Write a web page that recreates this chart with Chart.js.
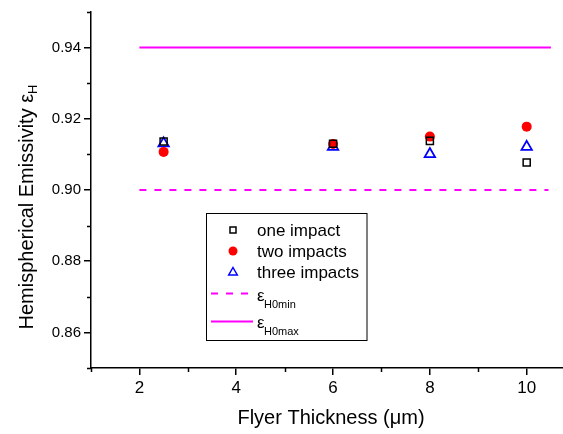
<!DOCTYPE html>
<html>
<head>
<meta charset="utf-8">
<script src="https://cdn.jsdelivr.net/npm/chart.js@4.4.1/dist/chart.umd.min.js"></script>
<style>
html,body{margin:0;padding:0;background:#fff;}
#wrap{width:563px;height:434px;position:relative;}
</style>
</head>
<body>
<div id="wrap"><canvas id="c" width="563" height="434"></canvas></div>
<script>
// Data
const thickness = [2.5, 6, 8, 10];
const oneImpact = [0.9136, 0.913, 0.9138, 0.9077];
const twoImpacts = [0.9107, 0.9129, 0.915, 0.9178];
const threeImpacts = [0.9131, 0.9121, 0.9101, 0.9121];
const eH0minX = [2, 10.45];
const eH0minY = [0.90, 0.90];
const eH0maxX = [2, 10.5];
const eH0maxY = [0.94, 0.94];
const xTicks = [2, 4, 6, 8, 10];
const xMinorTicks = [1, 3, 5, 7, 9];
const yTicks = [0.86, 0.88, 0.90, 0.92, 0.94];
const yMinorTicks = [0.85, 0.87, 0.89, 0.91, 0.93, 0.95];

const FONT = "'Liberation Sans', Arial, sans-serif";
const MAG = '#FF00FF';

const pts = (xs, ys) => xs.map((x, i) => ({x: x, y: ys[i]}));

const overlay = {
  id: 'overlay',
  afterDraw(chart) {
    const ctx = chart.ctx;
    const xs = chart.scales.x, ys = chart.scales.y;
    ctx.save();
    // minor ticks
    ctx.strokeStyle = '#000';
    ctx.lineWidth = 1.5;
    ctx.beginPath();
    xMinorTicks.forEach(v => {
      const px = Math.round(xs.getPixelForValue(v)) + 0.5;
      ctx.moveTo(px, ys.bottom);
      ctx.lineTo(px, ys.bottom + 4);
    });
    yMinorTicks.forEach(v => {
      const py = Math.round(ys.getPixelForValue(v)) + 0.5;
      ctx.moveTo(xs.left, py);
      ctx.lineTo(xs.left - 4, py);
    });
    ctx.stroke();

    // y axis title
    ctx.fillStyle = '#000';
    ctx.save();
    ctx.translate(33, 207);
    ctx.rotate(-Math.PI / 2);
    const main = 'Hemispherical Emissivity ε';
    ctx.font = '20px ' + FONT;
    const wMain = ctx.measureText(main).width;
    ctx.font = '13px ' + FONT;
    const wSub = ctx.measureText('H').width;
    const total = wMain + wSub;
    ctx.textBaseline = 'alphabetic';
    ctx.textAlign = 'left';
    ctx.font = '20px ' + FONT;
    ctx.fillText(main, -total / 2, 0);
    ctx.font = '13px ' + FONT;
    ctx.fillText('H', -total / 2 + wMain, 4);
    ctx.restore();

    // x axis title
    ctx.font = '20px ' + FONT;
    ctx.textAlign = 'center';
    ctx.textBaseline = 'alphabetic';
    ctx.fillText('Flyer Thickness (μm)', 331, 424);

    // legend box
    ctx.lineWidth = 1;
    ctx.strokeStyle = '#000';
    ctx.fillStyle = '#fff';
    ctx.fillRect(206.5, 213.5, 160.5, 127);
    ctx.strokeRect(206.5, 213.5, 160.5, 127);

    const symX = 233;
    const textX = 257;
    ctx.font = '17px ' + FONT;
    ctx.fillStyle = '#000';
    ctx.textAlign = 'left';
    ctx.textBaseline = 'middle';
    const rows = [230, 251, 272];
    // square
    ctx.lineWidth = 1.5;
    ctx.strokeStyle = '#000';
    ctx.strokeRect(symX - 3, rows[0] - 3, 6, 6);
    // circle
    ctx.fillStyle = '#FF0000';
    ctx.beginPath();
    ctx.arc(symX, rows[1], 4.5, 0, Math.PI * 2);
    ctx.fill();
    // triangle
    ctx.strokeStyle = '#0000FF';
    ctx.beginPath();
    ctx.moveTo(symX, rows[2] - 4.5);
    ctx.lineTo(symX + 4.3, rows[2] + 3);
    ctx.lineTo(symX - 4.3, rows[2] + 3);
    ctx.closePath();
    ctx.stroke();

    ctx.fillStyle = '#000';
    ctx.fillText('one impact', textX, rows[0] + 1);
    ctx.fillText('two impacts', textX, rows[1] + 1);
    ctx.fillText('three impacts', textX, rows[2] + 1);

    // line samples
    ctx.strokeStyle = MAG;
    ctx.lineWidth = 2;
    ctx.setLineDash([7, 8]);
    ctx.beginPath();
    ctx.moveTo(211, 293.5);
    ctx.lineTo(253, 293.5);
    ctx.stroke();
    ctx.setLineDash([]);
    ctx.beginPath();
    ctx.moveTo(211, 321.5);
    ctx.lineTo(253, 321.5);
    ctx.stroke();

    ctx.textBaseline = 'alphabetic';
    ctx.font = '17px ' + FONT;
    ctx.fillText('ε', 257, 301);
    ctx.font = '11px ' + FONT;
    ctx.fillText('H0min', 264, 308);
    ctx.font = '17px ' + FONT;
    ctx.fillText('ε', 257, 328);
    ctx.font = '11px ' + FONT;
    ctx.fillText('H0max', 264, 335);
    ctx.restore();
  }
};

new Chart(document.getElementById('c'), {
  type: 'scatter',
  data: {
    datasets: [
      {label: 'εH0max', data: pts(eH0maxX, eH0maxY), showLine: true, borderColor: MAG, borderWidth: 2, pointRadius: 0, fill: false},
      {label: 'εH0min', data: pts(eH0minX, eH0minY), showLine: true, borderColor: MAG, borderWidth: 2, borderDash: [7, 8], pointRadius: 0, fill: false},
      {label: 'one impact', data: pts(thickness, oneImpact), pointStyle: 'rect', pointRadius: 5, borderColor: '#000', backgroundColor: 'rgba(0,0,0,0)', borderWidth: 1.5},
      {label: 'two impacts', data: pts(thickness, twoImpacts), pointStyle: 'circle', pointRadius: 5, borderColor: '#FF0000', backgroundColor: '#FF0000', borderWidth: 0},
      {label: 'three impacts', data: pts(thickness, threeImpacts), pointStyle: 'triangle', pointRadius: 6, borderColor: '#0000FF', backgroundColor: 'rgba(0,0,0,0)', borderWidth: 1.8}
    ]
  },
  options: {
    responsive: false,
    animation: false,
    layout: {autoPadding: false, padding: {top: 12, right: 0, left: 0, bottom: 0}},
    plugins: {legend: {display: false}, tooltip: {enabled: false}},
    scales: {
      x: {
        type: 'linear', min: 1, max: 10.75,
        afterFit: s => { s.height = 66; s.paddingLeft = 0; s.paddingRight = 0; },
        afterBuildTicks: s => { s.ticks = xTicks.map(v => ({value: v})); },
        grid: {display: true, drawOnChartArea: false, drawTicks: true, tickLength: 7, color: '#000', lineWidth: 1.5},
        border: {display: true, color: '#000', width: 1.5},
        ticks: {color: '#000', font: {family: FONT, size: 17}, padding: 3, maxRotation: 0, callback: v => String(v)}
      },
      y: {
        type: 'linear', min: 0.85, max: 0.95,
        afterFit: s => { s.width = 91; s.paddingTop = 0; s.paddingBottom = 0; },
        afterBuildTicks: s => { s.ticks = yTicks.map(v => ({value: v})); },
        grid: {display: true, drawOnChartArea: false, drawTicks: true, tickLength: 7, color: '#000', lineWidth: 1.5},
        border: {display: true, color: '#000', width: 1.5},
        ticks: {color: '#000', font: {family: FONT, size: 15}, padding: 3, callback: v => v.toFixed(2)}
      }
    }
  },
  plugins: [overlay]
});
</script>
</body>
</html>
